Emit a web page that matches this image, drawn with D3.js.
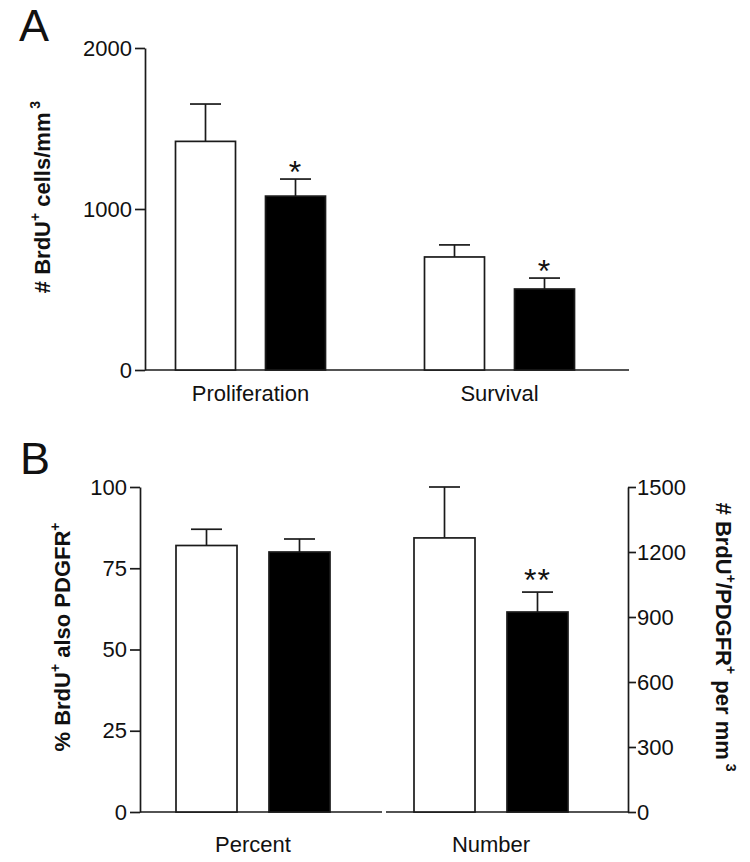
<!DOCTYPE html>
<html>
<head>
<meta charset="utf-8">
<script src="https://cdn.jsdelivr.net/npm/d3@7"></script>
<style>
  html, body { margin: 0; padding: 0; background: #fff; }
  svg { display: block; font-family: "Liberation Sans", Arial, Helvetica, sans-serif; }
</style>
</head>
<body>
<svg id="chart" width="750" height="862"></svg>
<script>
// ---------- Data ----------
const seriesNames = ["Control", "Treated"];
const seriesFill = ["#ffffff", "#000000"];

// Panel A
const categoriesA = ["Proliferation", "Survival"];
const meansA_control = [1420, 702];
const semA_control   = [232, 75];
const meansA_treated = [1080, 503];
const semA_treated   = [106, 68];
const starsA_treated = ["*", "*"];
const ticksA = [0, 1000, 2000];

// Panel B
const categoriesB = ["Percent", "Number"];
const meansB_control = [82, 1265];   // Percent on left axis (%), Number on right axis (#/mm3)
const semB_control   = [5, 235];
const meansB_treated = [80, 923];
const semB_treated   = [4, 92];
const starsB_treated = ["", "**"];
const ticksB_left = [0, 25, 50, 75, 100];
const ticksB_right = [0, 300, 600, 900, 1200, 1500];

// ---------- Setup ----------
const svg = d3.select("#chart");
const INK = "#1a1a1a";
const SW = 1.7;
const fmt = d3.format("d");

function styleAxis(g) {
  g.select(".domain").attr("stroke", INK).attr("stroke-width", SW);
  g.selectAll(".tick line").attr("stroke", INK).attr("stroke-width", SW);
  g.selectAll(".tick text").attr("fill", "#111").style("font-size", "22px")
    .style("font-family", '"Liberation Sans", Arial, sans-serif');
}

function drawBars(g, x0, x1, rows, yFor) {
  const grp = g.append("g");
  rows.forEach(r => {
    const y = yFor(r);
    const xl = x0(r.cat) + x0.bandwidth() / 2 + x1(r.s);
    const w = x1.bandwidth();
    const cx = xl + w / 2;
    const top = y(r.mean + r.sem);
    grp.append("line").attr("x1", cx).attr("x2", cx)
      .attr("y1", y(r.mean)).attr("y2", top)
      .attr("stroke", INK).attr("stroke-width", SW);
    grp.append("line").attr("x1", cx - 15.5).attr("x2", cx + 15.5)
      .attr("y1", top).attr("y2", top)
      .attr("stroke", INK).attr("stroke-width", SW);
    grp.append("rect").attr("x", xl).attr("y", y(r.mean))
      .attr("width", w).attr("height", y(0) - y(r.mean))
      .attr("fill", seriesFill[seriesNames.indexOf(r.s)])
      .attr("stroke", INK).attr("stroke-width", SW);
    if (r.star) {
      grp.append("text").attr("x", cx).attr("y", top + (r.star.length > 1 ? -1 : 4))
        .attr("text-anchor", "middle").style("font-size", "32px")
        .style("letter-spacing", "1px")
        .attr("fill", "#111").text(r.star);
    }
  });
}

function rotTitle(x, y, angle, parts) {
  const t = svg.append("text")
    .attr("transform", `translate(${x},${y}) rotate(${angle})`)
    .attr("text-anchor", "middle")
    .style("font-size", "22px").style("font-weight", "bold").attr("fill", "#111");
  parts.forEach(p => {
    const ts = t.append("tspan").text(p.t);
    if (p.sup) ts.style("font-size", "14px").attr("dy", -10);
    if (p.down) ts.attr("dy", 10);
  });
  return t;
}

// ---------- Panel A ----------
const yA = d3.scaleLinear().domain([0, 2000]).range([370, 48]);
const x0A = d3.scaleBand().domain(categoriesA).range([126, 624]);
const x1A = d3.scaleBand().domain(seriesNames).range([-75, 75]).paddingInner(1 / 3);

const gA = svg.append("g");
gA.append("g").attr("transform", "translate(145,0)")
  .call(d3.axisLeft(yA).tickValues(ticksA).tickFormat(fmt).tickSize(10).tickPadding(3).tickSizeOuter(0))
  .call(styleAxis);
gA.append("line").attr("x1", 145).attr("x2", 629).attr("y1", yA(0)).attr("y2", yA(0))
  .attr("stroke", INK).attr("stroke-width", SW);

const rowsA = [];
categoriesA.forEach((c, i) => {
  rowsA.push({cat: c, s: "Control", mean: meansA_control[i], sem: semA_control[i], star: ""});
  rowsA.push({cat: c, s: "Treated", mean: meansA_treated[i], sem: semA_treated[i], star: starsA_treated[i]});
});
drawBars(gA, x0A, x1A, rowsA, () => yA);

gA.selectAll("text.cat").data(categoriesA).enter().append("text").attr("class", "cat")
  .attr("x", d => x0A(d) + x0A.bandwidth() / 2).attr("y", 401)
  .attr("text-anchor", "middle").style("font-size", "22px").attr("fill", "#111").text(d => d);

svg.append("text").attr("x", 19).attr("y", 41).style("font-size", "45px").attr("fill", "#111").text("A");

rotTitle(50, 197, -90, [{t: "# BrdU"}, {t: "+", sup: true}, {t: " cells/mm", down: true}, {t: " 3", sup: true}]);

// ---------- Panel B ----------
const yBL = d3.scaleLinear().domain([0, 100]).range([812, 487]);
const yBR = d3.scaleLinear().domain([0, 1500]).range([812, 487]);
const x0B = d3.scaleBand().domain(categoriesB).range([134, 610]);
const x1B = d3.scaleBand().domain(seriesNames).range([-77, 77]).paddingInner(0.344);

const gB = svg.append("g");
gB.append("g").attr("transform", "translate(140,0)")
  .call(d3.axisLeft(yBL).tickValues(ticksB_left).tickFormat(fmt).tickSize(10).tickPadding(3).tickSizeOuter(0))
  .call(styleAxis);
gB.append("g").attr("transform", "translate(628,0)")
  .call(d3.axisRight(yBR).tickValues(ticksB_right).tickFormat(fmt).tickSize(8).tickPadding(1).tickSizeOuter(0))
  .call(styleAxis);
gB.append("line").attr("x1", 140).attr("x2", 382).attr("y1", yBL(0)).attr("y2", yBL(0))
  .attr("stroke", INK).attr("stroke-width", SW);
gB.append("line").attr("x1", 386).attr("x2", 628).attr("y1", yBL(0)).attr("y2", yBL(0))
  .attr("stroke", INK).attr("stroke-width", SW);

const rowsB = [];
categoriesB.forEach((c, i) => {
  rowsB.push({cat: c, s: "Control", mean: meansB_control[i], sem: semB_control[i], star: "", axis: i});
  rowsB.push({cat: c, s: "Treated", mean: meansB_treated[i], sem: semB_treated[i], star: starsB_treated[i], axis: i});
});
drawBars(gB, x0B, x1B, rowsB, r => (r.axis === 0 ? yBL : yBR));

gB.selectAll("text.cat").data(categoriesB).enter().append("text").attr("class", "cat")
  .attr("x", d => x0B(d) + x0B.bandwidth() / 2).attr("y", 852)
  .attr("text-anchor", "middle").style("font-size", "22px").attr("fill", "#111").text(d => d);

svg.append("text").attr("x", 20).attr("y", 474).style("font-size", "45px").attr("fill", "#111").text("B");

rotTitle(70, 637, -90, [{t: "% BrdU"}, {t: "+", sup: true}, {t: " also PDGFR", down: true}, {t: "+", sup: true}]);
rotTitle(716, 637, 90, [{t: "# BrdU"}, {t: "+", sup: true}, {t: "/PDGFR", down: true}, {t: "+", sup: true}, {t: " per mm", down: true}, {t: " 3", sup: true}]);
</script>
</body>
</html>
